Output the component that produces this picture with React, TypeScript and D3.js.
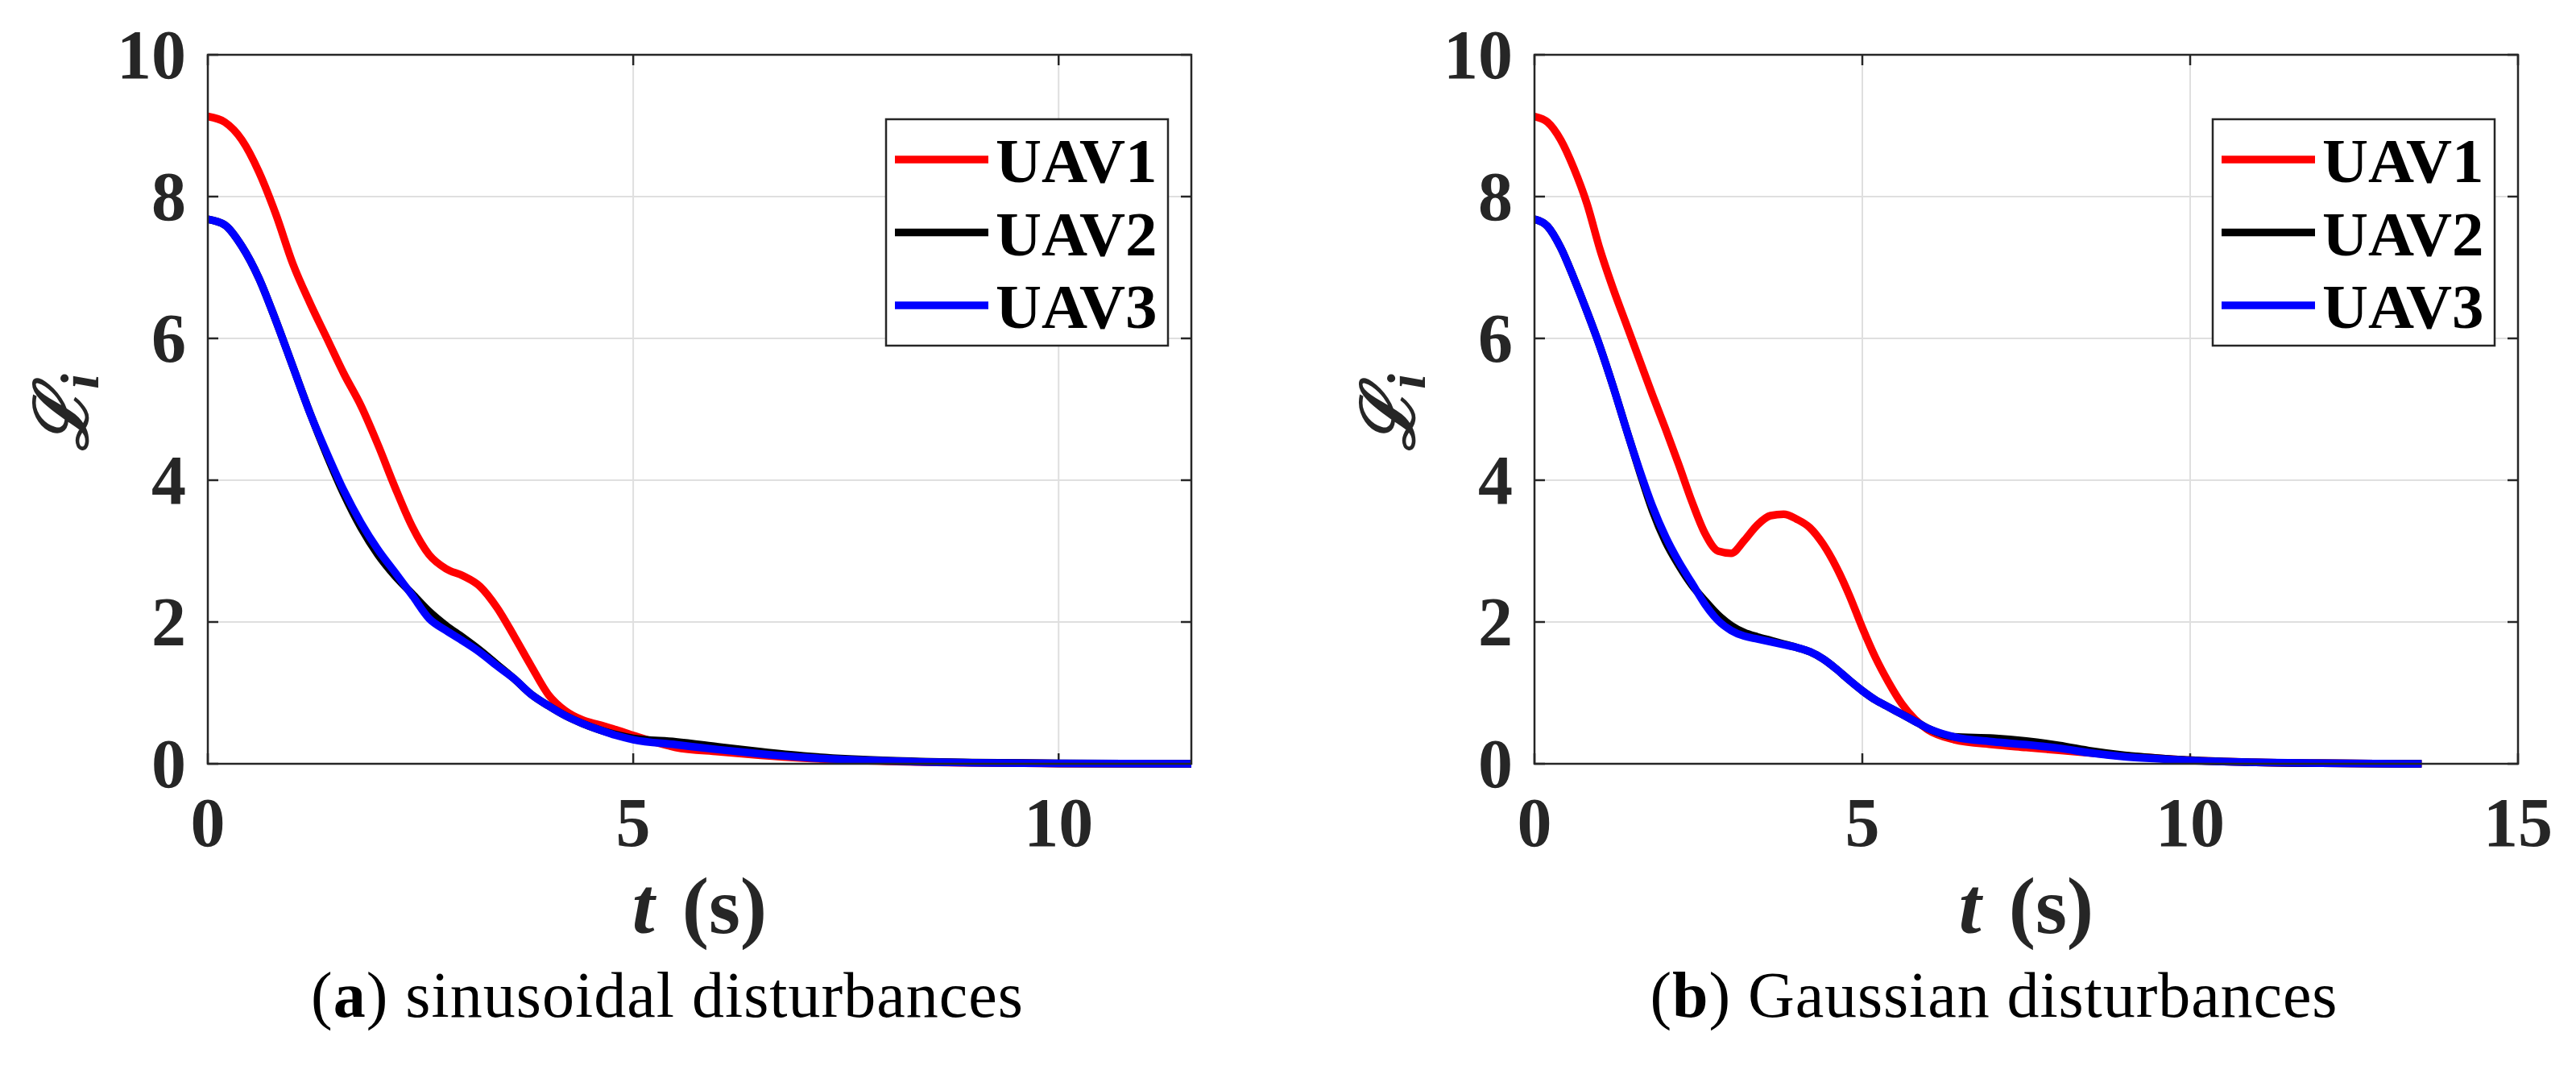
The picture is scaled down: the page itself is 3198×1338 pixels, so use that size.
import React, { useRef, useEffect } from 'react';
import * as d3 from 'd3';

// series names and colours (legend order)
const seriesNames = ['UAV1', 'UAV2', 'UAV3'];
const seriesColors = ['#ff0000', '#000000', '#0000ff'];

// (a) sinusoidal disturbances
const timeA = [
  0, 0.2, 0.4, 0.6, 0.8, 1.0, 1.2, 1.4, 1.6, 1.8, 2.0, 2.2, 2.4, 2.6, 2.8, 3.0, 3.2, 3.4, 3.6, 3.8,
  4.0, 4.2, 4.4, 4.6, 4.8, 5.0, 5.5, 6.0, 6.5, 7.0, 8.0, 9.0, 10.0, 11.56,
];
const uav1A = [
  9.13, 9.05, 8.8, 8.35, 7.75, 7.05, 6.5, 6.0, 5.5, 5.05, 4.5, 3.9, 3.35, 2.95, 2.75, 2.65, 2.5, 2.2, 1.8, 1.38,
  0.98, 0.75, 0.62, 0.55, 0.48, 0.4, 0.23, 0.17, 0.12, 0.08, 0.035, 0.013, 0.004, 0,
];
const uav2A = [
  7.68, 7.6, 7.3, 6.85, 6.25, 5.6, 4.95, 4.35, 3.8, 3.33, 2.95, 2.65, 2.4, 2.15, 1.95, 1.78, 1.6, 1.4, 1.2, 0.98,
  0.82, 0.68, 0.57, 0.48, 0.41, 0.36, 0.31, 0.24, 0.17, 0.11, 0.045, 0.018, 0.006, 0,
];
const uav3A = [
  7.68, 7.6, 7.3, 6.85, 6.25, 5.6, 4.95, 4.38, 3.85, 3.4, 3.02, 2.7, 2.38, 2.05, 1.88, 1.73, 1.57, 1.38, 1.2, 0.98,
  0.82, 0.68, 0.57, 0.48, 0.4, 0.34, 0.27, 0.2, 0.14, 0.09, 0.04, 0.015, 0.005, 0,
];

// (b) Gaussian disturbances
const timeB = [
  0, 0.2, 0.4, 0.6, 0.8, 1.0, 1.2, 1.4, 1.6, 1.8, 2.0, 2.2, 2.4, 2.6, 2.8, 3.0, 3.2, 3.4, 3.6, 3.8,
  4.0, 4.2, 4.4, 4.6, 4.8, 5.0, 5.2, 5.4, 5.6, 5.8, 6.0, 6.4, 7.0, 7.5, 8.0, 8.5, 9.0, 9.5, 10.0, 11.0, 12.0, 13.53,
];
const uav1B = [
  9.13, 9.05, 8.8, 8.4, 7.9, 7.25, 6.7, 6.2, 5.7, 5.2, 4.72, 4.22, 3.7, 3.25, 3.0, 2.97, 3.15, 3.37, 3.5, 3.52,
  3.45, 3.33, 3.1, 2.78, 2.38, 1.92, 1.5, 1.15, 0.85, 0.63, 0.48, 0.34, 0.27, 0.23, 0.19, 0.15, 0.11, 0.08, 0.05, 0.02, 0.008, 0,
];
const uav2B = [
  7.68, 7.58, 7.28, 6.85, 6.38, 5.88, 5.32, 4.72, 4.13, 3.57, 3.13, 2.8, 2.52, 2.3, 2.1, 1.95, 1.85, 1.79, 1.74, 1.69,
  1.64, 1.58, 1.48, 1.34, 1.18, 1.03, 0.9, 0.8, 0.7, 0.6, 0.5, 0.38, 0.36, 0.32, 0.26, 0.18, 0.12, 0.08, 0.05, 0.02, 0.008, 0,
];
const uav3B = [
  7.68, 7.58, 7.28, 6.85, 6.38, 5.88, 5.32, 4.72, 4.15, 3.63, 3.2, 2.85, 2.55, 2.25, 2.02, 1.88, 1.8, 1.76, 1.72, 1.68,
  1.64, 1.58, 1.48, 1.34, 1.18, 1.03, 0.9, 0.8, 0.7, 0.6, 0.5, 0.38, 0.31, 0.27, 0.22, 0.15, 0.1, 0.07, 0.045, 0.02, 0.008, 0,
];

const yTicks = [0, 2, 4, 6, 8, 10];
const xTicksA = [0, 5, 10];
const xTicksB = [0, 5, 10, 15];

const panels = [
  { left: 258, right: 1479, xMax: 11.56, xTicks: xTicksA, time: timeA, series: [uav1A, uav2A, uav3A], tag: 'a', caption: ' sinusoidal disturbances', capX: 828, capLen: 884 },
  { left: 1905, right: 3126, xMax: 15, xTicks: xTicksB, time: timeB, series: [uav1B, uav2B, uav3B], tag: 'b', caption: ' Gaussian disturbances', capX: 2475, capLen: 853 },
];

const W = 3198;
const H = 1338;
const top = 68;
const bottom = 948;
const axisColor = '#262626';
const serif = '"Liberation Serif", "Times New Roman", serif';

function App() {
  const svgRef = useRef(null);

  useEffect(() => {
    const svg = d3.select(svgRef.current);
    svg.selectAll('*').remove();

    panels.forEach((p, pi) => {
      const x = d3.scaleLinear().domain([0, p.xMax]).range([p.left, p.right]);
      const y = d3.scaleLinear().domain([0, 10]).range([bottom, top]);
      const g = svg.append('g');

      const clipId = 'clip' + pi;
      g.append('clipPath')
        .attr('id', clipId)
        .append('rect')
        .attr('x', p.left)
        .attr('y', top - 10)
        .attr('width', p.right - p.left)
        .attr('height', bottom - top + 20);

      // grid
      g.selectAll('.gx')
        .data(p.xTicks.filter((t) => t > 0 && t < p.xMax))
        .join('line')
        .attr('x1', (d) => x(d))
        .attr('x2', (d) => x(d))
        .attr('y1', top)
        .attr('y2', bottom)
        .attr('stroke', '#dfdfdf')
        .attr('stroke-width', 2);
      g.selectAll('.gy')
        .data(yTicks.filter((t) => t > 0 && t < 10))
        .join('line')
        .attr('x1', p.left)
        .attr('x2', p.right)
        .attr('y1', (d) => y(d))
        .attr('y2', (d) => y(d))
        .attr('stroke', '#dfdfdf')
        .attr('stroke-width', 2);

      // inward ticks on all sides
      const tl = 13;
      p.xTicks.forEach((t) => {
        g.append('line').attr('x1', x(t)).attr('x2', x(t)).attr('y1', bottom).attr('y2', bottom - tl).attr('stroke', axisColor).attr('stroke-width', 2.5);
        g.append('line').attr('x1', x(t)).attr('x2', x(t)).attr('y1', top).attr('y2', top + tl).attr('stroke', axisColor).attr('stroke-width', 2.5);
      });
      yTicks.forEach((t) => {
        g.append('line').attr('x1', p.left).attr('x2', p.left + tl).attr('y1', y(t)).attr('y2', y(t)).attr('stroke', axisColor).attr('stroke-width', 2.5);
        g.append('line').attr('x1', p.right).attr('x2', p.right - tl).attr('y1', y(t)).attr('y2', y(t)).attr('stroke', axisColor).attr('stroke-width', 2.5);
      });

      // lines
      const line = d3
        .line()
        .x((d: any) => x(d[0]))
        .y((d: any) => y(d[1]))
        .curve(d3.curveMonotoneX);
      p.series.forEach((vals, si) => {
        const pts = p.time.map((t, i) => [t, vals[i]]);
        g.append('path')
          .attr('d', line(pts as any))
          .attr('fill', 'none')
          .attr('stroke', seriesColors[si])
          .attr('stroke-width', 9.5)
          .attr('stroke-linejoin', 'round')
          .attr('clip-path', `url(#${clipId})`);
      });

      // box
      g.append('rect')
        .attr('x', p.left)
        .attr('y', top)
        .attr('width', p.right - p.left)
        .attr('height', bottom - top)
        .attr('fill', 'none')
        .attr('stroke', axisColor)
        .attr('stroke-width', 2.5);

      // tick labels
      g.selectAll('.xl')
        .data(p.xTicks)
        .join('text')
        .attr('x', (d) => x(d))
        .attr('y', 1050)
        .attr('text-anchor', 'middle')
        .attr('font-family', serif)
        .attr('font-weight', 'bold')
        .attr('font-size', 86)
        .attr('fill', axisColor)
        .text((d) => d);
      g.selectAll('.yl')
        .data(yTicks)
        .join('text')
        .attr('x', p.left - 27)
        .attr('y', (d) => y(d) + 29)
        .attr('text-anchor', 'end')
        .attr('font-family', serif)
        .attr('font-weight', 'bold')
        .attr('font-size', 86)
        .attr('fill', axisColor)
        .text((d) => d);

      // x label
      const xl = g.append('text')
        .attr('x', (p.left + p.right) / 2)
        .attr('y', 1158)
        .attr('text-anchor', 'middle')
        .attr('font-family', serif)
        .attr('font-weight', 'bold')
        .attr('font-size', 100)
        .attr('fill', axisColor);
      xl.append('tspan').attr('font-style', 'italic').text('t');
      xl.append('tspan').attr('dx', 34).text('(s)');

      // y label
      const yl = g.append('text')
        .attr('transform', `translate(${p.left - 150}, 512) rotate(-90)`)
        .attr('text-anchor', 'middle')
        .attr('font-family', '"DejaVu Serif", serif')
        .attr('font-weight', 'bold')
        .attr('font-style', 'italic')
        .attr('font-size', 92)
        .attr('fill', axisColor);
      yl.append('tspan').text('ℒ');
      yl.append('tspan').attr('dy', 14).attr('font-size', 68).attr('font-family', serif).text('i');

      // legend
      const lx = p.right - 29 - 350;
      const ly = 148;
      g.append('rect')
        .attr('x', lx)
        .attr('y', ly)
        .attr('width', 350)
        .attr('height', 281)
        .attr('fill', '#ffffff')
        .attr('stroke', axisColor)
        .attr('stroke-width', 2.5);
      seriesNames.forEach((name, si) => {
        const cy = 198 + si * 90.5;
        g.append('line')
          .attr('x1', lx + 11)
          .attr('x2', lx + 127)
          .attr('y1', cy)
          .attr('y2', cy)
          .attr('stroke', seriesColors[si])
          .attr('stroke-width', 9.5);
        g.append('text')
          .attr('x', lx + 136)
          .attr('y', cy + 28)
          .attr('font-family', serif)
          .attr('font-weight', 'bold')
          .attr('font-size', 79)
          .attr('fill', '#000000')
          .text(name);
      });

      // caption
      const cap = svg.append('text')
        .attr('x', p.capX)
        .attr('y', 1262)
        .attr('text-anchor', 'middle')
        .attr('font-family', serif)
        .attr('font-size', 80)
        .attr('textLength', p.capLen)
        .attr('lengthAdjust', 'spacing')
        .attr('fill', '#000000');
      cap.append('tspan').text('(');
      cap.append('tspan').attr('font-weight', 'bold').text(p.tag);
      cap.append('tspan').text(')' + p.caption);
    });
  }, []);

  return (
    <svg
      ref={svgRef}
      width={W}
      height={H}
      style={{ position: 'absolute', left: 0, top: 0, background: '#ffffff' }}
    ></svg>
  );
}

export default App;
